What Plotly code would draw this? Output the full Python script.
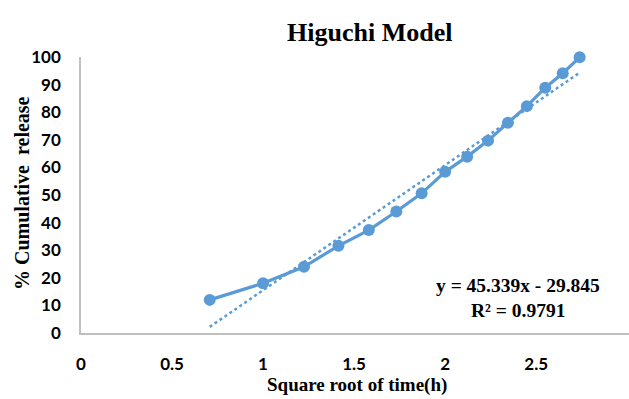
import plotly.graph_objects as go

# Data
sqrt_time = [0.707, 1.000, 1.225, 1.414, 1.581, 1.732, 1.871, 2.000,
             2.121, 2.236, 2.345, 2.449, 2.550, 2.646, 2.739]
cum_release = [12.0, 18.0, 24.0, 31.6, 37.3, 44.0, 50.6, 58.4,
               63.9, 69.7, 76.2, 82.2, 88.9, 94.1, 99.9]

# Linear trend line (as stated on the chart)
slope = 45.339
intercept = -29.845
x_ticks = [0, 0.5, 1, 1.5, 2, 2.5, 3]
y_ticks = [0, 10, 20, 30, 40, 50, 60, 70, 80, 90, 100]

blue = "#5B9BD5"
trend_x = [min(sqrt_time), max(sqrt_time)]
trend_y = [slope * v + intercept for v in trend_x]

fig = go.Figure()
fig.add_trace(go.Scatter(x=trend_x, y=trend_y, mode="lines",
                         line=dict(color=blue, width=2.5, dash="dot"),
                         showlegend=False, hoverinfo="skip", cliponaxis=False))
fig.add_trace(go.Scatter(x=sqrt_time, y=cum_release, mode="lines+markers",
                         line=dict(color=blue, width=3.2),
                         marker=dict(color=blue, size=12),
                         showlegend=False, cliponaxis=False))

serif = "Liberation Serif"
L, R, T, B = 81, 0, 57, 66
fig.update_layout(
    width=629, height=399,
    margin=dict(l=L, r=R, t=T, b=B),
    paper_bgcolor="white", plot_bgcolor="white",
    title=dict(text="<b>Higuchi Model</b>", x=0.527, xref="paper",
               y=1 - 32 / 399, yref="container", xanchor="center", yanchor="middle",
               font=dict(family=serif, size=26, color="black")),
    xaxis=dict(range=[0, 3.01], tickvals=x_ticks, ticktext=[f"<b>{t:g}</b>" for t in x_ticks],
               showgrid=False, zeroline=False, showline=True, linecolor="#BFBFBF", linewidth=1.5,
               ticks="", ticklabelstandoff=15, automargin=False,
               tickfont=dict(family="Lato", size=17, color="black")),
    yaxis=dict(range=[0, 100], tickvals=y_ticks, ticktext=[f"<b>{t}</b>" for t in y_ticks],
               showgrid=False, zeroline=False, showline=True, linecolor="#BFBFBF", linewidth=1.5,
               ticks="", ticklabelstandoff=15, automargin=False,
               tickfont=dict(family="Lato", size=17, color="black")),
)
pw, ph = 629 - L - R, 399 - T - B

def px_x(p):
    return (p - L) / pw

def px_y(p):
    return (399 - B - p) / ph

fig.add_annotation(text="<b>Square root of time(h)</b>", xref="paper", yref="paper",
                   x=px_x(356.5), y=px_y(385), showarrow=False,
                   xanchor="center", yanchor="middle",
                   font=dict(family=serif, size=19, color="black"))
fig.add_annotation(text="<b>% Cumulative  release</b>", xref="paper", yref="paper",
                   x=px_x(22), y=px_y(193), showarrow=False, textangle=-90,
                   xanchor="center", yanchor="middle",
                   font=dict(family=serif, size=20, color="black"))
fig.add_annotation(text="<b>y = 45.339x - 29.845</b>", xref="paper", yref="paper",
                   x=px_x(517.5), y=px_y(285), showarrow=False,
                   xanchor="center", yanchor="middle",
                   font=dict(family=serif, size=19.5, color="black"))
fig.add_annotation(text="<b>R² = 0.9791</b>", xref="paper", yref="paper",
                   x=px_x(517.5), y=px_y(310), showarrow=False,
                   xanchor="center", yanchor="middle",
                   font=dict(family=serif, size=19.5, color="black"))

fig.write_html("out.html")
